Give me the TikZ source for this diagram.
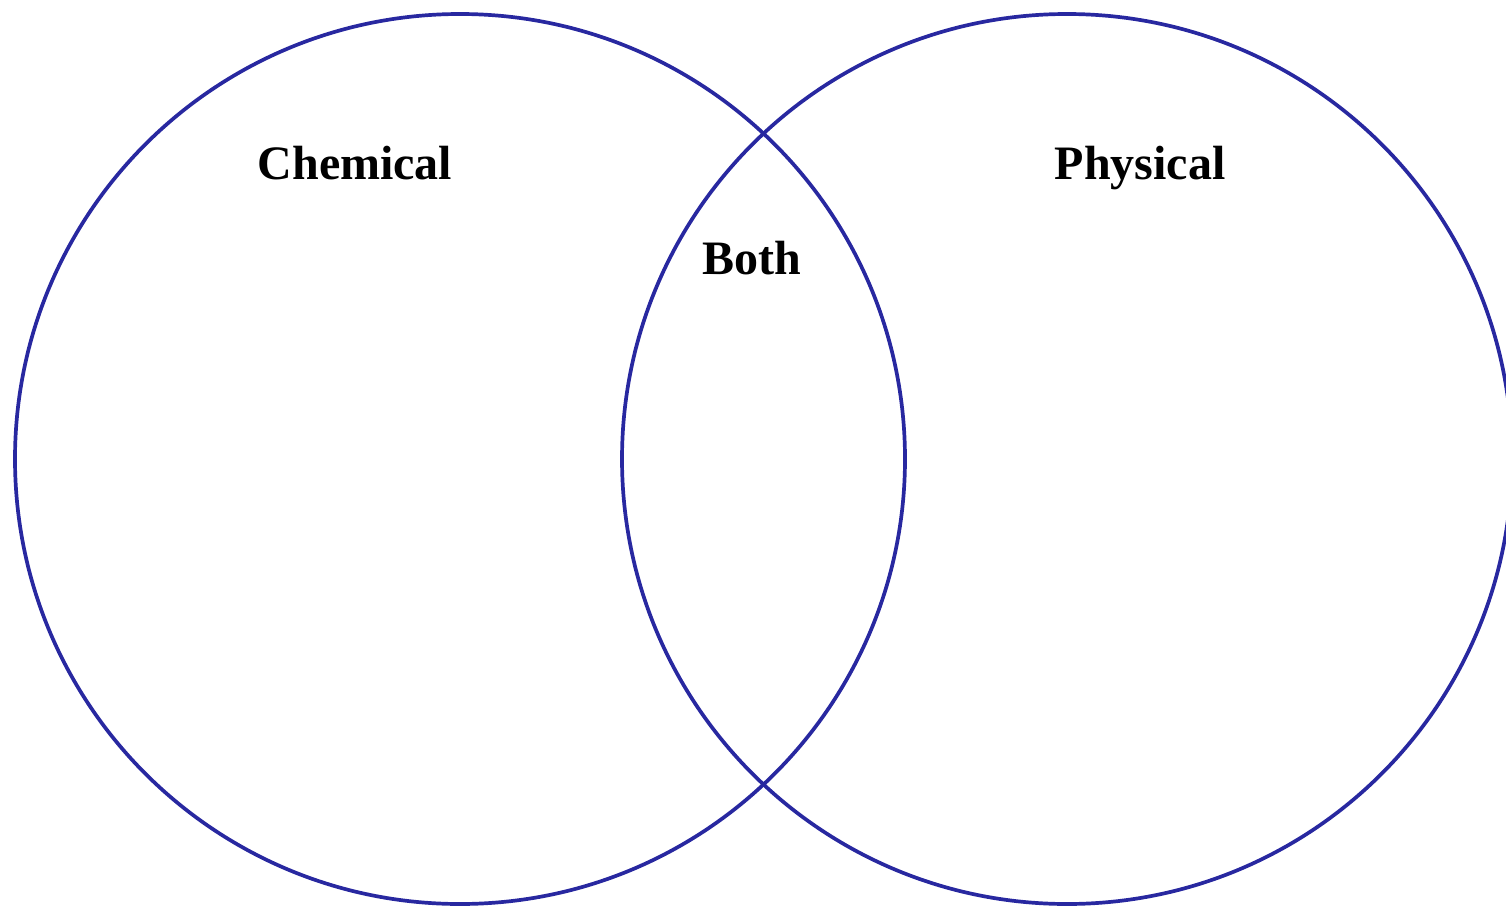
\documentclass[tikz,border=0pt]{standalone}
\usepackage{fontspec}
\setmainfont{Liberation Serif}
\usepackage{tikz}
\usepackage{xcolor}
\definecolor{vennblue}{RGB}{40,40,160}

\begin{document}
\begin{tikzpicture}[x=1pt,y=-1pt,
  setring/.style={draw=vennblue,line width=3.7pt},
  setlabel/.style={anchor=base,inner sep=0pt,font=\fontsize{48}{50}\selectfont\bfseries}]
  \useasboundingbox (0,0) rectangle (1506,907);
  \clip (0,0) rectangle (1506,907);
  \draw[setring] (460,459) circle (445);
  \draw[setring] (1067,459) circle (445);
  \node[setlabel] (chem) at (355,179) {Chemical};
  \node[setlabel] (both) at (752,274) {Both};
  \node[setlabel] (phys) at (1140,179) {Physical};
\end{tikzpicture}
\end{document}
